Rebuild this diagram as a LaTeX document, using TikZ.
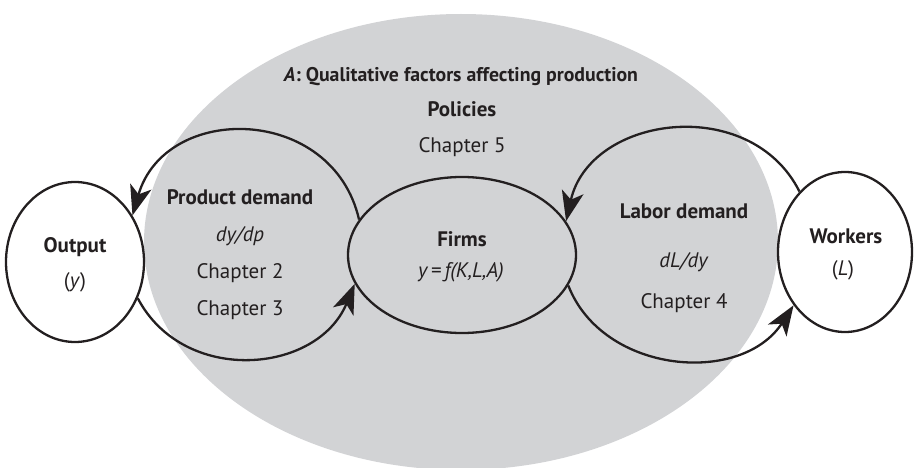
\documentclass[tikz,border=0pt]{standalone}
\usepackage{fontspec}
\setmainfont{PT Sans}
\usetikzlibrary{shapes.geometric,arrows.meta}
\definecolor{bg}{HTML}{D2D3D5}
\definecolor{ink}{HTML}{231F20}
\tikzset{
  lbl/.style={anchor=base, text=ink, font=\fontsize{21}{25}\selectfont, inner sep=0pt},
  blbl/.style={anchor=base, text=ink, font=\fontsize{21}{25}\selectfont\bfseries, inner sep=0pt},
  oval/.style={ellipse, draw=ink, line width=2.3pt, inner sep=0pt},
  tipshape/.tip={Stealth[length=30pt,width=22pt,inset=8pt]},
  flow/.style={draw=ink, line width=2.3pt, -tipshape}
}
\begin{document}
\begin{tikzpicture}[x=1pt,y=1pt]
\useasboundingbox (0,0) rectangle (914,467);
\node[ellipse, fill=bg, minimum width=634pt, minimum height=456pt, inner sep=0pt] (field) at (461,225) {};
\node[oval, fill=white, minimum width=138pt, minimum height=160pt] (output) at (75,205) {};
\node[oval, minimum width=228pt, minimum height=156pt] (firms) at (462,212) {};
\node[oval, fill=white, minimum width=134pt, minimum height=160pt] (workers) at (845,215) {};

\draw[flow] (firms.161.7) .. controls +(-26.4,115.0) and +(32.8,113.5) .. (output.39.5);
\draw[flow] (output.330.6) .. controls +(45.7,-87.2) and +(-37.5,-90.7) .. (firms.195.9);
\draw[flow] (workers.127.5) .. controls +(-49.0,98.0) and +(23.9,106.2) .. (firms.18);
\draw[flow] (firms.344.6) .. controls +(34.5,-88.8) and +(-52.1,-80.5) .. (workers.226);

\node[blbl, font=\fontsize{19.8}{24}\selectfont\bfseries] (title) at (461,385) {\textit{A}: Qualitative factors affecting production};
\node[blbl] (pol) at (462,350) {Policies};
\node[lbl] (ch5) at (462,315) {Chapter 5};

\node[blbl] (pd) at (240,262) {Product demand};
\node[lbl] (dydp) at (240,226) {\textit{dy/dp}};
\node[lbl] (ch2) at (240,189) {Chapter 2};
\node[lbl] (ch3) at (240,152) {Chapter 3};

\node[blbl] (outlbl) at (75,215) {Output};
\node[lbl] (outvar) at (75,180) {(\textit{y})};

\node[blbl] (firmlbl) at (462,221) {Firms};
\node[lbl] (prodfn) at (461,190) {\textit{y\,=\,f(K,L,A)}};

\node[blbl] (ld) at (684,249) {Labor demand};
\node[lbl] (dldy) at (684,200) {\textit{dL/dy}};
\node[lbl] (ch4) at (684,159) {Chapter 4};

\node[blbl] (worklbl) at (846,224) {Workers};
\node[lbl] (workvar) at (843,192) {(\textit{L})};
\end{tikzpicture}
\end{document}
